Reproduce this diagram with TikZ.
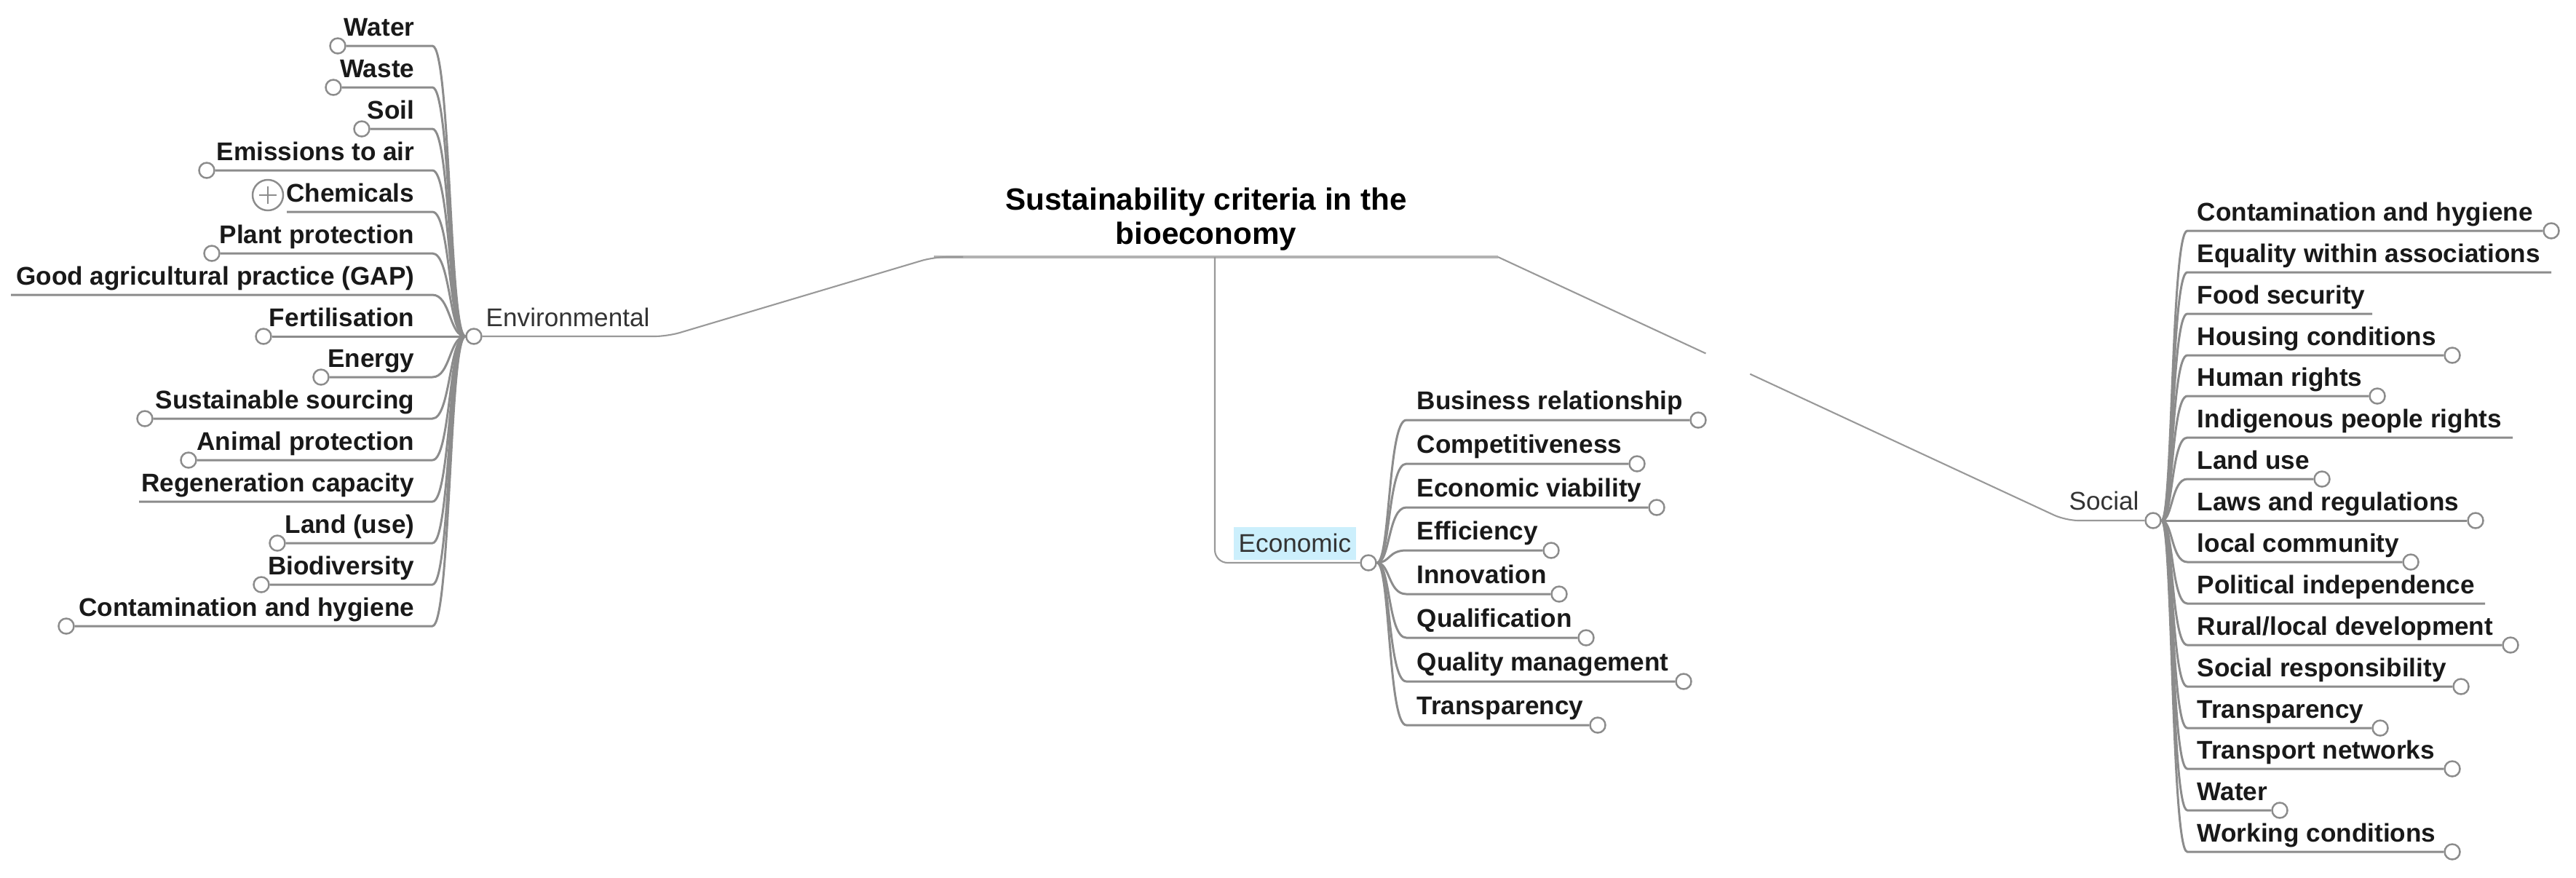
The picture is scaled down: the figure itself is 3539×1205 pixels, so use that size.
\documentclass[tikz,border=0pt]{standalone}
\usepackage{fontspec}
\setmainfont{Liberation Sans}
\usetikzlibrary{calc}

\begin{document}
\begin{tikzpicture}[x=0.01cm,y=-0.01cm]
\tikzset{T/.style={font=\fontsize{12}{13.4}\selectfont\bfseries,align=center,inner sep=0}}
\tikzset{B/.style={font=\fontsize{10}{12}\selectfont,text=black!80,inner sep=0}}
\tikzset{L/.style={font=\fontsize{10}{12}\selectfont\bfseries,text=black!90,inner sep=0}}
\tikzset{D/.style={circle,draw=black!45,fill=white,line width=0.7pt,minimum size=0.21cm,inner sep=0}}
\tikzset{X/.style={circle,draw=black!45,fill=white,line width=0.7pt,minimum size=0.42cm,inner sep=0,
  path picture={\draw[black!45,line width=0.7pt] ($(path picture bounding box.center)+(-12,0)$) -- ++(24,0)
    ($(path picture bounding box.center)+(0,-12)$) -- ++(0,24);}}}
\tikzset{W/.style={draw=black!45,line width=0.85pt}}
\tikzset{S/.style={draw=black!40,line width=0.6pt,rounded corners=5pt}}

  \useasboundingbox (0,0) rectangle (3539,1205);

  % root and main branches
  \node[T,anchor=south] (root) at (1657,345) {Sustainability criteria in the\\bioeconomy};
  \coordinate (rootL) at (1283,353);
  \coordinate (rootR) at (2058,353);

  \node[D] (envc) at (651,462) {};
  \node[B,anchor=base west] (env) at (667,448) {Environmental};
  \coordinate (envK) at (917,462);

  \node[D] (ecoc) at (1880,773) {};
  \node[B,fill=cyan!20,text height=0.26cm,text depth=0.03cm,inner xsep=0.07cm,inner ysep=0.08cm,anchor=base west] (eco) at (1694,758) {Economic};
  \coordinate (ecoK) at (1669,773);

  \node[D] (socc) at (2958,715) {};
  \node[B,anchor=base west] (soc) at (2842,700) {Social};
  \coordinate (socK) at (2838,715);

  \coordinate (envX) at (594,0);
  \coordinate (ecoX) at (1932,0);
  \coordinate (socX) at (3005,0);

  % environmental
  \node[L,anchor=base east] (e1) at (570,49) {Water};
  \node[L,anchor=base east] (e2) at (570,106) {Waste};
  \node[L,anchor=base east] (e3) at (570,163) {Soil};
  \node[L,anchor=base east] (e4) at (570,220) {Emissions to air};
  \node[L,anchor=base east] (e5) at (570,277) {Chemicals};
  \node[L,anchor=base east] (e6) at (570,334) {Plant protection};
  \node[L,anchor=base east] (e7) at (570,391) {Good agricultural practice (GAP)};
  \node[L,anchor=base east] (e8) at (570,448) {Fertilisation};
  \node[L,anchor=base east] (e9) at (570,504) {Energy};
  \node[L,anchor=base east] (e10) at (570,561) {Sustainable sourcing};
  \node[L,anchor=base east] (e11) at (570,618) {Animal protection};
  \node[L,anchor=base east] (e12) at (570,675) {Regeneration capacity};
  \node[L,anchor=base east] (e13) at (570,732) {Land (use)};
  \node[L,anchor=base east] (e14) at (570,789) {Biodiversity};
  \node[L,anchor=base east] (e15) at (570,846) {Contamination and hygiene};

  \node[D] (e1c) at (464,63) {};
  \node[D] (e2c) at (458,120) {};
  \node[D] (e3c) at (497,177) {};
  \node[D] (e4c) at (284,234) {};
  \node[X] (e5p) at (368,268) {};
  \coordinate (e5c) at (394,291);
  \node[D] (e6c) at (291,348) {};
  \coordinate (e7c) at (15,405);
  \node[D] (e8c) at (362,462) {};
  \node[D] (e9c) at (441,518) {};
  \node[D] (e10c) at (199,575) {};
  \node[D] (e11c) at (259,632) {};
  \coordinate (e12c) at (191,689);
  \node[D] (e13c) at (381,746) {};
  \node[D] (e14c) at (359,803) {};
  \node[D] (e15c) at (91,860) {};

  % economic
  \node[L,anchor=base west] (k1) at (1946,562) {Business relationship};
  \node[L,anchor=base west] (k2) at (1946,622) {Competitiveness};
  \node[L,anchor=base west] (k3) at (1946,682) {Economic viability};
  \node[L,anchor=base west] (k4) at (1946,741) {Efficiency};
  \node[L,anchor=base west] (k5) at (1946,801) {Innovation};
  \node[L,anchor=base west] (k6) at (1946,861) {Qualification};
  \node[L,anchor=base west] (k7) at (1946,921) {Quality management};
  \node[L,anchor=base west] (k8) at (1946,981) {Transparency};

  \node[D] (k1c) at (2333,577) {};
  \node[D] (k2c) at (2249,637) {};
  \node[D] (k3c) at (2276,697) {};
  \node[D] (k4c) at (2131,756) {};
  \node[D] (k5c) at (2142,816) {};
  \node[D] (k6c) at (2179,876) {};
  \node[D] (k7c) at (2313,936) {};
  \node[D] (k8c) at (2195,996) {};

  % social
  \node[L,anchor=base west] (s1) at (3018,303) {Contamination and hygiene};
  \node[L,anchor=base west] (s2) at (3018,360) {Equality within associations};
  \node[L,anchor=base west] (s3) at (3018,417) {Food security};
  \node[L,anchor=base west] (s4) at (3018,474) {Housing conditions};
  \node[L,anchor=base west] (s5) at (3018,530) {Human rights};
  \node[L,anchor=base west] (s6) at (3018,587) {Indigenous people rights};
  \node[L,anchor=base west] (s7) at (3018,644) {Land use};
  \node[L,anchor=base west] (s8) at (3018,701) {Laws and regulations};
  \node[L,anchor=base west] (s9) at (3018,758) {local community};
  \node[L,anchor=base west] (s10) at (3018,815) {Political independence};
  \node[L,anchor=base west] (s11) at (3018,872) {Rural/local development};
  \node[L,anchor=base west] (s12) at (3018,929) {Social responsibility};
  \node[L,anchor=base west] (s13) at (3018,986) {Transparency};
  \node[L,anchor=base west] (s14) at (3018,1042) {Transport networks};
  \node[L,anchor=base west] (s15) at (3018,1099) {Water};
  \node[L,anchor=base west] (s16) at (3018,1156) {Working conditions};

  \node[D] (s1c) at (3505,317) {};
  \coordinate (s2c) at (3505,374);
  \coordinate (s3c) at (3259,431);
  \node[D] (s4c) at (3369,488) {};
  \node[D] (s5c) at (3266,544) {};
  \coordinate (s6c) at (3452,601);
  \node[D] (s7c) at (3190,658) {};
  \node[D] (s8c) at (3401,715) {};
  \node[D] (s9c) at (3312,772) {};
  \coordinate (s10c) at (3414,829);
  \node[D] (s11c) at (3449,886) {};
  \node[D] (s12c) at (3381,943) {};
  \node[D] (s13c) at (3270,1000) {};
  \node[D] (s14c) at (3369,1056) {};
  \node[D] (s15c) at (3132,1113) {};
  \node[D] (s16c) at (3369,1170) {};

  % connectors
  \draw[draw=black!30,line width=1.1pt] (rootL) -- (rootR);
  \draw[S] ($(rootL)+(40,0)$) -- (rootL) -- (envK) -- (envc);
  \draw[S] (rootL -| ecoK) -- (ecoK) -- (ecoc);
  \draw[S] (rootR) -- ($(rootR)!0.366!(socK)$);
  \draw[S] ($(rootR)!0.444!(socK)$) -- (socK) -- (socc);

  \draw[W] (envc.west) .. controls +(-22,0) and +(25,0) .. (e1c -| envX) -- (e1c);
  \draw[W] (envc.west) .. controls +(-22,0) and +(25,0) .. (e2c -| envX) -- (e2c);
  \draw[W] (envc.west) .. controls +(-22,0) and +(25,0) .. (e3c -| envX) -- (e3c);
  \draw[W] (envc.west) .. controls +(-22,0) and +(25,0) .. (e4c -| envX) -- (e4c);
  \draw[W] (envc.west) .. controls +(-22,0) and +(25,0) .. (e5c -| envX) -- (e5c);
  \draw[W] (envc.west) .. controls +(-22,0) and +(25,0) .. (e6c -| envX) -- (e6c);
  \draw[W] (envc.west) .. controls +(-22,0) and +(25,0) .. (e7c -| envX) -- (e7c);
  \draw[W] (envc.west) -- (e8c);
  \draw[W] (envc.west) .. controls +(-22,0) and +(25,0) .. (e9c -| envX) -- (e9c);
  \draw[W] (envc.west) .. controls +(-22,0) and +(25,0) .. (e10c -| envX) -- (e10c);
  \draw[W] (envc.west) .. controls +(-22,0) and +(25,0) .. (e11c -| envX) -- (e11c);
  \draw[W] (envc.west) .. controls +(-22,0) and +(25,0) .. (e12c -| envX) -- (e12c);
  \draw[W] (envc.west) .. controls +(-22,0) and +(25,0) .. (e13c -| envX) -- (e13c);
  \draw[W] (envc.west) .. controls +(-22,0) and +(25,0) .. (e14c -| envX) -- (e14c);
  \draw[W] (envc.west) .. controls +(-22,0) and +(25,0) .. (e15c -| envX) -- (e15c);

  \draw[W] (ecoc.east) .. controls +(18,0) and +(-25,0) .. (k1c -| ecoX) -- (k1c);
  \draw[W] (ecoc.east) .. controls +(18,0) and +(-25,0) .. (k2c -| ecoX) -- (k2c);
  \draw[W] (ecoc.east) .. controls +(18,0) and +(-25,0) .. (k3c -| ecoX) -- (k3c);
  \draw[W] (ecoc.east) .. controls +(18,0) and +(-25,0) .. (k4c -| ecoX) -- (k4c);
  \draw[W] (ecoc.east) .. controls +(18,0) and +(-25,0) .. (k5c -| ecoX) -- (k5c);
  \draw[W] (ecoc.east) .. controls +(18,0) and +(-25,0) .. (k6c -| ecoX) -- (k6c);
  \draw[W] (ecoc.east) .. controls +(18,0) and +(-25,0) .. (k7c -| ecoX) -- (k7c);
  \draw[W] (ecoc.east) .. controls +(18,0) and +(-25,0) .. (k8c -| ecoX) -- (k8c);

  \draw[W] (socc.east) .. controls +(15,0) and +(-22,0) .. (s1c -| socX) -- (s1c);
  \draw[W] (socc.east) .. controls +(15,0) and +(-22,0) .. (s2c -| socX) -- (s2c);
  \draw[W] (socc.east) .. controls +(15,0) and +(-22,0) .. (s3c -| socX) -- (s3c);
  \draw[W] (socc.east) .. controls +(15,0) and +(-22,0) .. (s4c -| socX) -- (s4c);
  \draw[W] (socc.east) .. controls +(15,0) and +(-22,0) .. (s5c -| socX) -- (s5c);
  \draw[W] (socc.east) .. controls +(15,0) and +(-22,0) .. (s6c -| socX) -- (s6c);
  \draw[W] (socc.east) .. controls +(15,0) and +(-22,0) .. (s7c -| socX) -- (s7c);
  \draw[W] (socc.east) -- (s8c);
  \draw[W] (socc.east) .. controls +(15,0) and +(-22,0) .. (s9c -| socX) -- (s9c);
  \draw[W] (socc.east) .. controls +(15,0) and +(-22,0) .. (s10c -| socX) -- (s10c);
  \draw[W] (socc.east) .. controls +(15,0) and +(-22,0) .. (s11c -| socX) -- (s11c);
  \draw[W] (socc.east) .. controls +(15,0) and +(-22,0) .. (s12c -| socX) -- (s12c);
  \draw[W] (socc.east) .. controls +(15,0) and +(-22,0) .. (s13c -| socX) -- (s13c);
  \draw[W] (socc.east) .. controls +(15,0) and +(-22,0) .. (s14c -| socX) -- (s14c);
  \draw[W] (socc.east) .. controls +(15,0) and +(-22,0) .. (s15c -| socX) -- (s15c);
  \draw[W] (socc.east) .. controls +(15,0) and +(-22,0) .. (s16c -| socX) -- (s16c);
\end{tikzpicture}
\end{document}
